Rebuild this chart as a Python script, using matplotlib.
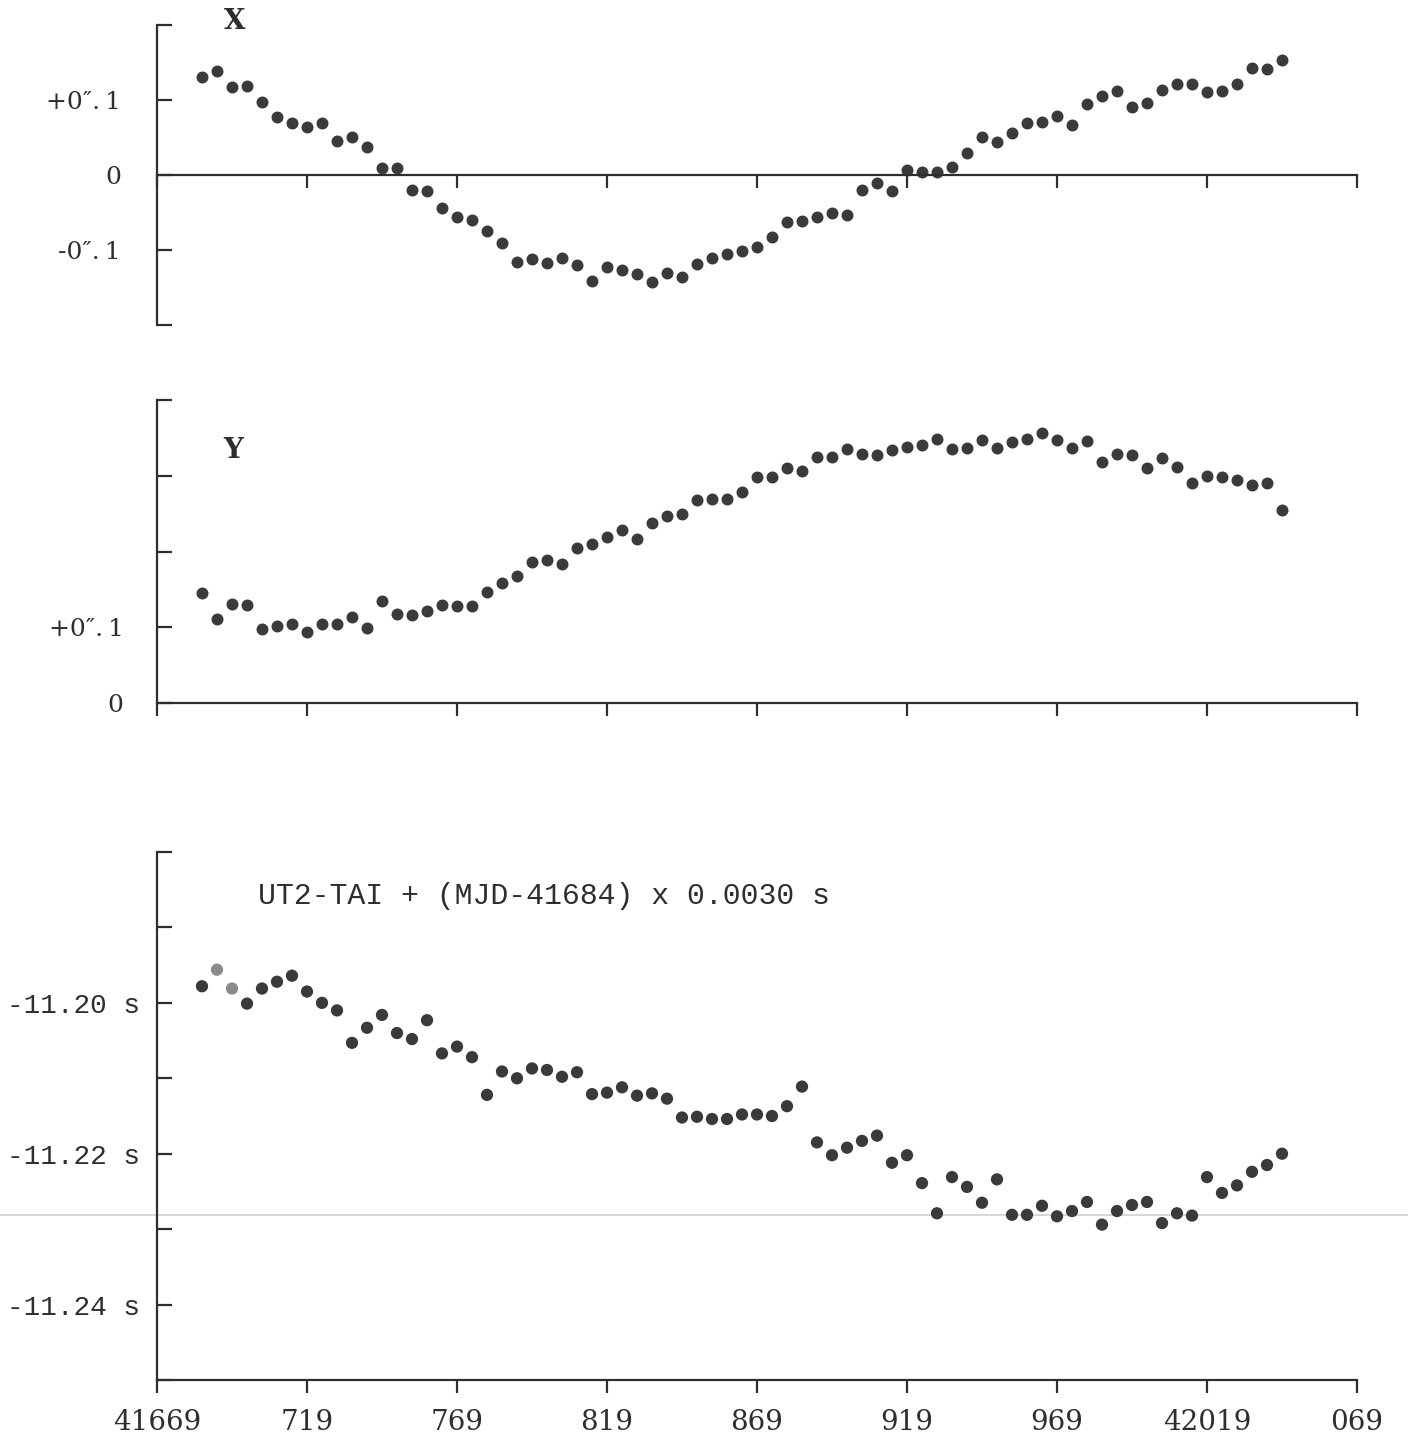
import matplotlib
matplotlib.use("Agg")
import matplotlib.pyplot as plt
from matplotlib.lines import Line2D

# dates (MJD), one point every 5 days
MJD = [41684, 41689, 41694, 41699, 41704, 41709, 41714, 41719, 41724, 41729,
       41734, 41739, 41744, 41749, 41754, 41759, 41764, 41769, 41774, 41779,
       41784, 41789, 41794, 41799, 41804, 41809, 41814, 41819, 41824, 41829,
       41834, 41839, 41844, 41849, 41854, 41859, 41864, 41869, 41874, 41879,
       41884, 41889, 41894, 41899, 41904, 41909, 41914, 41919, 41924, 41929,
       41934, 41939, 41944, 41949, 41954, 41959, 41964, 41969, 41974, 41979,
       41984, 41989, 41994, 41999, 42004, 42009, 42014, 42019, 42024, 42029,
       42034, 42039, 42044]

# pole coordinate x (arcsec)
X_POLE = [0.131, 0.139, 0.118, 0.119, 0.097, 0.078, 0.070, 0.064, 0.069, 0.045,
          0.051, 0.038, 0.010, 0.010, -0.020, -0.021, -0.044, -0.056, -0.060, -0.074,
          -0.091, -0.116, -0.112, -0.117, -0.111, -0.120, -0.141, -0.123, -0.127, -0.132,
          -0.143, -0.130, -0.136, -0.119, -0.110, -0.105, -0.101, -0.096, -0.082, -0.062,
          -0.061, -0.056, -0.051, -0.053, -0.020, -0.011, -0.021, 0.007, 0.004, 0.004,
          0.011, 0.029, 0.051, 0.044, 0.056, 0.069, 0.071, 0.079, 0.067, 0.095,
          0.105, 0.112, 0.091, 0.096, 0.113, 0.122, 0.122, 0.111, 0.112, 0.122,
          0.143, 0.142, 0.153]

# pole coordinate y (arcsec)
Y_POLE = [0.145, 0.111, 0.131, 0.129, 0.098, 0.102, 0.104, 0.094, 0.104, 0.104,
          0.113, 0.099, 0.135, 0.117, 0.116, 0.121, 0.130, 0.128, 0.128, 0.147,
          0.159, 0.168, 0.186, 0.189, 0.184, 0.205, 0.210, 0.219, 0.228, 0.217,
          0.238, 0.247, 0.249, 0.268, 0.269, 0.269, 0.279, 0.298, 0.298, 0.310,
          0.306, 0.325, 0.325, 0.335, 0.329, 0.328, 0.334, 0.338, 0.340, 0.348,
          0.335, 0.336, 0.347, 0.336, 0.344, 0.348, 0.356, 0.347, 0.337, 0.346,
          0.318, 0.329, 0.328, 0.310, 0.323, 0.311, 0.291, 0.300, 0.298, 0.294,
          0.288, 0.290, 0.255]

# UT2-TAI + (MJD-41684) x 0.0030 s
UT2_TAI = [-11.1978, -11.1956, -11.1981, -11.2001, -11.1981, -11.1972, -11.1964, -11.1985,
           -11.2000, -11.2010, -11.2053, -11.2033, -11.2016, -11.2040, -11.2048, -11.2023,
           -11.2067, -11.2058, -11.2072, -11.2122, -11.2091, -11.2100, -11.2087, -11.2089,
           -11.2098, -11.2092, -11.2121, -11.2119, -11.2112, -11.2123, -11.2120, -11.2127,
           -11.2152, -11.2151, -11.2154, -11.2154, -11.2148, -11.2148, -11.2150, -11.2137,
           -11.2111, -11.2185, -11.2202, -11.2192, -11.2183, -11.2176, -11.2212, -11.2202,
           -11.2239, -11.2279, -11.2231, -11.2244, -11.2265, -11.2234, -11.2281, -11.2281,
           -11.2269, -11.2283, -11.2276, -11.2264, -11.2294, -11.2276, -11.2268, -11.2264,
           -11.2292, -11.2279, -11.2282, -11.2231, -11.2252, -11.2242, -11.2224, -11.2215,
           -11.2200]

XTICKS = [41669, 41719, 41769, 41819, 41869, 41919, 41969, 42019, 42069]
XTICK_LABELS = ["41669", "719", "769", "819", "869", "919", "969", "42019", "069"]

INK = "#2e2e2e"
DOT = "#3a3a3a"
SERIF = "DejaVu Serif"
MONO = "Liberation Mono"
ARCSEC = "0\u2033.\u20091"


def style_axes(ax):
    ax.patch.set_alpha(0)
    for side in ("top", "right"):
        ax.spines[side].set_visible(False)
    for side in ("left", "bottom"):
        ax.spines[side].set_color(INK)
        ax.spines[side].set_linewidth(1.6)
    ax.set_xlim(41669, 42069)
    ax.set_xticks(XTICKS)
    ax.tick_params(axis="y", direction="in", length=11, width=1.6, color=INK)
    ax.tick_params(axis="x", direction="out", length=9, width=1.6, color=INK)


def main():
    fig = plt.figure(figsize=(14.08, 14.42), dpi=100)
    left, width = 157 / 1408, 1200 / 1408

    # faint scanner streak across the page
    fig.add_artist(Line2D([0, 1], [1 - 1215 / 1442] * 2, transform=fig.transFigure,
                          color="#cfcfcf", lw=1.2, zorder=0))

    # X panel
    ax1 = fig.add_axes([left, 1 - 325 / 1442, width, 300 / 1442])
    style_axes(ax1)
    ax1.spines["bottom"].set_position(("data", 0))
    ax1.set_ylim(-0.2, 0.2)
    ax1.set_yticks([-0.2, -0.1, 0, 0.1, 0.2])
    ax1.set_yticklabels(["", "-" + ARCSEC, "0", "+" + ARCSEC, ""],
                        fontsize=18, family=SERIF, color=INK)
    ax1.tick_params(axis="y", pad=26)
    ax1.set_xticklabels([])
    ax1.plot(MJD, X_POLE, "o", ms=7.6, color=DOT, clip_on=False)
    ax1.text(41695, 0.205, "X", fontsize=20, family=SERIF, fontweight="bold",
             color=INK, ha="center", va="center")

    # Y panel
    ax2 = fig.add_axes([left, 1 - 703 / 1442, width, 303 / 1442])
    style_axes(ax2)
    ax2.set_ylim(0, 0.4)
    ax2.set_yticks([0, 0.1, 0.2, 0.3, 0.4])
    ax2.set_yticklabels(["0", "+" + ARCSEC, "", "", ""],
                        fontsize=18, family=SERIF, color=INK)
    ax2.tick_params(axis="y", pad=24)
    ax2.set_xticklabels([])
    ax2.plot(MJD, Y_POLE, "o", ms=7.6, color=DOT, clip_on=False)
    ax2.text(41694.5, 0.333, "Y", fontsize=20, family=SERIF, fontweight="bold",
             color=INK, ha="center", va="center")

    # UT2-TAI panel
    ax3 = fig.add_axes([left, 62 / 1442, width, 528 / 1442])
    style_axes(ax3)
    ax3.set_ylim(-11.25, -11.18)
    ax3.set_yticks([-11.25, -11.24, -11.23, -11.22, -11.21, -11.20, -11.19, -11.18])
    ax3.set_yticklabels(["", "-11.24 s", "", "-11.22 s", "", "-11.20 s", "", ""],
                        fontsize=20, family=MONO, color=INK)
    ax3.tick_params(axis="y", pad=12)
    ax3.set_xticklabels(XTICK_LABELS, fontsize=20, family=SERIF, color=INK)
    ax3.tick_params(axis="x", pad=12)
    colors = [DOT] * len(MJD)
    colors[1] = colors[2] = "#8a8a8a"
    ax3.scatter(MJD, UT2_TAI, s=78, c=colors, linewidths=0, clip_on=False)
    ax3.text(41702.7, -11.1858, "UT2-TAI + (MJD-41684) x 0.0030 s", fontsize=21.5,
             family=MONO, color=INK, ha="left", va="center")

    fig.savefig("out.png", dpi=100, facecolor="white")


if __name__ == "__main__":
    main()
